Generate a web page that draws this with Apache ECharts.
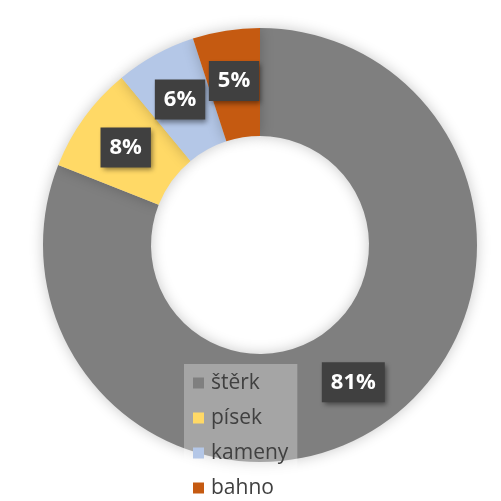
<!DOCTYPE html>
<html>
<head>
<meta charset="utf-8">
<script src="https://cdn.jsdelivr.net/npm/echarts@6/dist/echarts.min.js"></script>
<style>
  html, body { margin: 0; padding: 0; background: #ffffff; }
  #chart { width: 501px; height: 501px; }
</style>
</head>
<body>
<div id="chart"></div>
<script>
// Material composition (percent)
const categories = ['štěrk', 'písek', 'kameny', 'bahno'];
const shares = [81, 8, 6, 5];
const colors = ['#7f7f7f', '#ffd966', '#b4c7e7', '#c55a11'];

const chart = echarts.init(document.getElementById('chart'), null, { renderer: 'canvas' });

const pieData = categories.map((name, i) => ({
  name: name,
  value: shares[i],
  itemStyle: { color: colors[i] }
}));

chart.setOption({
  backgroundColor: '#ffffff',
  animation: false,
  legend: {
    orient: 'vertical',
    left: 184,
    top: 364,
    width: 110,
    height: 135,
    padding: [7, 9, 0, 9],
    backgroundColor: 'rgba(255,255,255,0.3)',
    icon: 'rect',
    itemWidth: 11,
    itemHeight: 11,
    itemGap: 11,
    selectedMode: false,
    data: categories,
    textStyle: {
      fontFamily: '"Open Sans", sans-serif',
      fontSize: 21,
      lineHeight: 24,
      color: '#404040',
      padding: [0, 0, 0, 2]
    }
  },
  series: [{
    type: 'pie',
    center: [260, 245],
    radius: [109, 217],
    startAngle: 90,
    clockwise: true,
    avoidLabelOverlap: false,
    itemStyle: {
      shadowColor: 'rgba(0,0,0,0.22)',
      shadowBlur: 14
    },
    label: {
      show: true,
      position: 'inside',
      formatter: p => p.value + '%',
      color: '#ffffff',
      fontFamily: '"Open Sans", sans-serif',
      fontWeight: 'bold',
      fontSize: 22,
      lineHeight: 26,
      backgroundColor: '#404040',
      padding: [7, 9, 7, 9],
      shadowColor: 'rgba(0,0,0,0.45)',
      shadowBlur: 5,
      shadowOffsetX: 2,
      shadowOffsetY: 3
    },
    labelLine: { show: false },
    emphasis: { disabled: true },
    data: pieData
  }]
});
</script>
</body>
</html>
